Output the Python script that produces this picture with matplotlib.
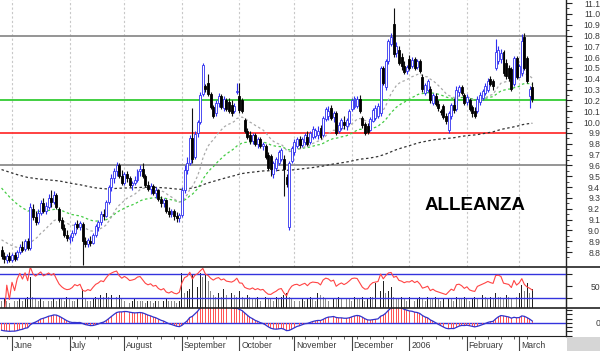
import numpy as np
import pandas as pd
import matplotlib
matplotlib.use("Agg")
import matplotlib.pyplot as plt
from matplotlib.patches import Rectangle
from matplotlib.lines import Line2D

plt.rcParams['font.family'] = ['Liberation Sans', 'DejaVu Sans']

# ---------------- data ----------------
opens = [8.82, 8.76, 8.73, 8.76, 8.73, 8.77, 8.75, 8.80, 8.85, 8.83, 8.90, 8.84, 9.20, 9.12, 9.08, 9.16, 9.25, 9.18, 9.22, 9.30,
         9.26, 9.33, 9.20, 9.10, 9.02, 8.96, 8.92, 8.94, 8.98, 9.06, 9.03, 9.06, 8.90, 8.87, 8.90, 8.88, 8.96, 9.03, 9.08, 9.15,
         9.13, 9.26, 9.40, 9.48, 9.55, 9.60, 9.50, 9.44, 9.52, 9.48, 9.42, 9.44, 9.47, 9.55, 9.57, 9.50, 9.42, 9.38, 9.41, 9.35,
         9.37, 9.29, 9.25, 9.28, 9.18, 9.15, 9.18, 9.13, 9.11, 9.14, 9.37, 9.56, 9.62, 9.85, 9.68, 9.90, 10.00, 10.26, 10.33, 10.36,
         10.26, 10.14, 10.08, 10.18, 10.24, 10.13, 10.20, 10.19, 10.16, 10.10, 10.28, 10.24, 10.20, 10.02, 9.92, 9.88, 9.83, 9.88, 9.80, 9.84,
         9.78, 9.78, 9.70, 9.69, 9.52, 9.58, 9.62, 9.66, 9.66, 9.49, 9.03, 9.64, 9.72, 9.78, 9.84, 9.79, 9.82, 9.86, 9.82, 9.86,
         9.87, 9.88, 9.95, 9.88, 10.03, 10.06, 10.13, 10.05, 10.08, 9.92, 9.95, 10.00, 9.96, 9.99, 10.12, 10.14, 10.15, 10.21, 10.04, 9.98,
         9.96, 9.93, 10.01, 10.04, 10.06, 10.08, 10.50, 10.32, 10.56, 10.72, 10.91, 10.64, 10.67, 10.60, 10.52, 10.47, 10.58, 10.52, 10.58, 10.51,
         10.56, 10.42, 10.27, 10.30, 10.31, 10.18, 10.24, 10.17, 10.10, 10.15, 10.06, 9.93, 10.06, 10.16, 10.12, 10.28, 10.32, 10.25, 10.19, 10.20,
         10.14, 10.10, 10.10, 10.19, 10.22, 10.27, 10.30, 10.40, 10.38, 10.50, 10.56, 10.58, 10.65, 10.55, 10.50, 10.49, 10.35, 10.59, 10.42, 10.45,
         10.79, 10.59, 10.24, 10.32]
highs = [8.86, 8.80, 8.78, 8.80, 8.79, 8.80, 8.82, 8.87, 8.90, 8.92, 8.93, 9.25, 9.24, 9.18, 9.20, 9.28, 9.30, 9.26, 9.34, 9.37,
         9.36, 9.35, 9.22, 9.12, 9.06, 9.00, 8.96, 9.00, 9.08, 9.10, 9.09, 9.08, 8.94, 8.93, 8.95, 8.98, 9.06, 9.10, 9.18, 9.20,
         9.28, 9.42, 9.52, 9.58, 9.63, 9.62, 9.56, 9.54, 9.55, 9.50, 9.46, 9.50, 9.57, 9.60, 9.62, 9.52, 9.46, 9.44, 9.43, 9.40,
         9.38, 9.32, 9.30, 9.29, 9.22, 9.20, 9.20, 9.17, 9.16, 9.40, 9.60, 9.68, 9.88, 10.13, 9.92, 10.02, 10.28, 10.55, 10.35, 10.44,
         10.28, 10.16, 10.20, 10.27, 10.26, 10.24, 10.22, 10.22, 10.20, 10.18, 10.36, 10.36, 10.22, 10.04, 9.95, 9.92, 9.90, 9.90, 9.86, 9.86,
         9.82, 9.80, 9.72, 9.71, 9.64, 9.68, 9.74, 9.76, 9.70, 9.52, 9.64, 9.78, 9.84, 9.86, 9.87, 9.86, 9.90, 9.92, 9.92, 9.96,
         9.95, 9.96, 9.97, 10.06, 10.14, 10.15, 10.16, 10.10, 10.10, 10.00, 10.04, 10.06, 10.04, 10.12, 10.22, 10.24, 10.24, 10.25, 10.06, 10.00,
         9.99, 10.05, 10.13, 10.16, 10.18, 10.52, 10.52, 10.58, 10.77, 10.82, 11.05, 10.74, 10.70, 10.64, 10.56, 10.53, 10.62, 10.60, 10.60, 10.58,
         10.58, 10.44, 10.36, 10.40, 10.33, 10.27, 10.27, 10.20, 10.12, 10.17, 10.08, 10.10, 10.18, 10.22, 10.33, 10.34, 10.34, 10.27, 10.26, 10.22,
         10.16, 10.14, 10.24, 10.28, 10.31, 10.36, 10.41, 10.43, 10.40, 10.77, 10.70, 10.68, 10.67, 10.58, 10.53, 10.51, 10.61, 10.61, 10.54, 10.81,
         10.82, 10.61, 10.33, 10.37]
lows = [8.74, 8.70, 8.70, 8.71, 8.71, 8.72, 8.73, 8.78, 8.80, 8.81, 8.82, 8.82, 9.10, 9.05, 9.06, 9.14, 9.16, 9.15, 9.20, 9.22,
        9.24, 9.20, 9.08, 9.00, 8.94, 8.90, 8.88, 8.90, 8.96, 9.01, 9.00, 8.68, 8.85, 8.85, 8.86, 8.87, 8.94, 8.99, 9.05, 9.10,
        9.12, 9.24, 9.36, 9.44, 9.50, 9.48, 9.42, 9.42, 9.45, 9.40, 9.37, 9.42, 9.45, 9.50, 9.48, 9.40, 9.36, 9.34, 9.33, 9.30,
        9.27, 9.22, 9.22, 9.16, 9.12, 9.12, 9.10, 9.08, 9.08, 9.12, 9.35, 9.52, 9.60, 9.62, 9.66, 9.86, 9.98, 10.24, 10.28, 10.24,
        10.12, 10.04, 10.06, 10.14, 10.12, 10.10, 10.10, 10.08, 10.06, 10.08, 10.26, 10.08, 10.08, 9.90, 9.84, 9.80, 9.80, 9.78, 9.76, 9.76,
        9.74, 9.66, 9.56, 9.50, 9.48, 9.55, 9.60, 9.64, 9.32, 9.40, 9.00, 9.62, 9.70, 9.76, 9.76, 9.77, 9.79, 9.78, 9.80, 9.84,
        9.85, 9.84, 9.84, 9.86, 10.01, 10.02, 10.02, 10.00, 9.88, 9.90, 9.93, 9.94, 9.93, 9.97, 10.10, 10.12, 10.13, 10.08, 9.95, 9.88,
        9.89, 9.92, 10.00, 10.02, 10.04, 10.06, 10.34, 10.30, 10.54, 10.70, 10.60, 10.60, 10.53, 10.48, 10.44, 10.44, 10.48, 10.50, 10.48, 10.49,
        10.45, 10.28, 10.25, 10.28, 10.18, 10.16, 10.15, 10.10, 10.07, 10.03, 9.98, 9.90, 10.03, 10.08, 10.10, 10.24, 10.25, 10.16, 10.16, 10.10,
        10.05, 10.04, 10.08, 10.16, 10.20, 10.25, 10.28, 10.33, 10.30, 10.48, 10.54, 10.55, 10.43, 10.40, 10.38, 10.29, 10.33, 10.40, 10.43, 10.43,
        10.48, 10.36, 10.13, 10.19]
closes = [8.76, 8.74, 8.76, 8.73, 8.77, 8.74, 8.80, 8.85, 8.82, 8.90, 8.84, 9.22, 9.12, 9.08, 9.16, 9.25, 9.18, 9.23, 9.30, 9.26,
          9.33, 9.22, 9.10, 9.02, 8.96, 8.93, 8.94, 8.98, 9.06, 9.03, 9.07, 8.90, 8.87, 8.91, 8.88, 8.96, 9.04, 9.08, 9.15, 9.13,
          9.26, 9.40, 9.48, 9.55, 9.60, 9.50, 9.44, 9.52, 9.48, 9.42, 9.44, 9.47, 9.55, 9.57, 9.50, 9.42, 9.38, 9.41, 9.35, 9.37,
          9.29, 9.25, 9.28, 9.18, 9.15, 9.18, 9.13, 9.11, 9.14, 9.37, 9.56, 9.62, 9.85, 9.66, 9.89, 10.00, 10.25, 10.53, 10.31, 10.26,
          10.14, 10.06, 10.18, 10.24, 10.14, 10.21, 10.12, 10.10, 10.08, 10.15, 10.29, 10.11, 10.10, 9.92, 9.86, 9.83, 9.88, 9.80, 9.84, 9.78,
          9.80, 9.68, 9.58, 9.57, 9.62, 9.66, 9.72, 9.74, 9.57, 9.43, 9.62, 9.76, 9.82, 9.84, 9.79, 9.84, 9.88, 9.80, 9.90, 9.94,
          9.93, 9.92, 9.86, 10.04, 10.12, 10.10, 10.04, 10.08, 9.90, 9.97, 10.02, 9.97, 10.02, 10.10, 10.20, 10.22, 10.21, 10.10, 9.97, 9.90,
          9.91, 10.03, 10.11, 10.13, 10.15, 10.50, 10.36, 10.56, 10.75, 10.79, 10.63, 10.70, 10.55, 10.52, 10.46, 10.51, 10.50, 10.57, 10.50, 10.56,
          10.47, 10.31, 10.34, 10.38, 10.20, 10.25, 10.17, 10.13, 10.09, 10.05, 10.01, 10.08, 10.16, 10.11, 10.30, 10.32, 10.27, 10.18, 10.23, 10.12,
          10.08, 10.06, 10.21, 10.25, 10.29, 10.33, 10.38, 10.35, 10.33, 10.65, 10.67, 10.64, 10.45, 10.43, 10.41, 10.31, 10.59, 10.42, 10.52, 10.75,
          10.50, 10.38, 10.31, 10.21]
volumes = [3, 4, 3, 2, 4, 3, 3, 4, 3, 4, 5, 15, 5, 4, 3, 4, 3, 4, 3, 3,
           4, 3, 4, 4, 3, 5, 4, 3, 3, 4, 3, 9, 4, 3, 3, 4, 5, 4, 6, 5,
           7, 5, 6, 7, 5, 6, 4, 3, 3, 2, 3, 4, 3, 3, 3, 2, 3, 3, 2, 3,
           3, 2, 3, 4, 3, 3, 3, 2, 3, 17, 7, 8, 9, 16, 9, 10, 17, 15, 16, 13,
           8, 6, 5, 7, 5, 9, 6, 5, 7, 6, 5, 8, 5, 4, 6, 5, 4, 4, 5, 3,
           4, 5, 4, 4, 3, 5, 4, 5, 6, 7, 5, 4, 3, 4, 3, 4, 3, 4, 5, 4,
           3, 7, 6, 5, 4, 3, 3, 4, 4, 5, 4, 5, 4, 4, 3, 5, 4, 4, 5, 3,
           4, 5, 5, 12, 7, 8, 13, 7, 8, 10, 5, 4, 4, 5, 4, 3, 5, 4, 3, 4,
           5, 4, 3, 5, 4, 4, 5, 4, 3, 4, 3, 4, 4, 3, 5, 4, 4, 5, 4, 3,
           4, 5, 4, 4, 6, 5, 4, 5, 4, 7, 5, 5, 4, 6, 5, 4, 6, 5, 7, 11,
           8, 12, 7, 9]

start_date, end_date = '2005-05-26', '2006-03-08'
closed_days = ['2005-08-15']
support_grey = [10.8, 9.6]
level_green = 10.2
level_red = 9.9
title = 'ALLEANZA'
# indicator values at the left edge of the chart
ma_short_start, ma_mid_start, ma_long_start = 8.93, 9.42, 9.57
ema12_start, ema26_start = 8.93, 9.01

# ---------------- helpers ----------------
def ema(values, span, seed):
    a = 2.0 / (span + 1.0)
    out, prev = [], seed
    for val in values:
        prev = prev + a * (val - prev)
        out.append(prev)
    return np.array(out)

n = len(closes)
dates = pd.bdate_range(start_date, end_date)
dates = dates[~dates.isin(pd.to_datetime(closed_days))][:n]
x = np.arange(n)
o = np.array(opens); h = np.array(highs); l = np.array(lows); c = np.array(closes)
v = np.array(volumes, dtype=float)

ma_s = ema(c, 20, ma_short_start)
ma_m = ema(c, 45, ma_mid_start)
ma_l = ema(c, 200, ma_long_start)

diff = np.diff(c, prepend=c[0])
gain = pd.Series(np.clip(diff, 0, None)).ewm(alpha=1/14, adjust=False).mean()
loss = pd.Series(np.clip(-diff, 0, None)).ewm(alpha=1/14, adjust=False).mean()
rsi = (100 - 100 / (1 + gain / loss.replace(0, np.nan))).values
rsi[0] = np.nan
macd = ema(c, 12, ema12_start) - ema(c, 26, ema26_start)

# month starts
month_idx, month_lab = [], []
for i in range(1, n):
    if dates[i].month != dates[i - 1].month:
        month_idx.append(i)
        month_lab.append(str(dates[i].year) if dates[i].month == 1 else dates[i].strftime('%B'))
monday_idx = [i for i in range(n) if dates[i].weekday() == 0]

# ---------------- figure ----------------
W, H = 600, 351
fig = plt.figure(figsize=(W / 100, H / 100), dpi=100)
fig.patch.set_facecolor('white')
right = 566 / W
ax1 = fig.add_axes([0, 1 - 267 / H, right, 267 / H])
ax2 = fig.add_axes([0, 1 - 307.5 / H, right, 40 / H])
ax3 = fig.add_axes([0, 1 - 336 / H, right, 28.5 / H])
xlim = (-0.59, 215.9)
for ax in (ax1, ax2, ax3):
    ax.set_xlim(*xlim)
    ax.set_facecolor('white')
    for s in ('top', 'left', 'bottom'):
        ax.spines[s].set_visible(False)
    ax.spines['right'].set_color('#222222')
    ax.spines['right'].set_linewidth(1.0)
    ax.tick_params(axis='x', which='both', bottom=False, labelbottom=False)

lblc = '#3a3a3a'
fs = 6.2

# main panel
ax1.set_ylim(8.662, 11.128)
for mi in month_idx:
    ax1.axvline(mi, color='#c8c8c8', lw=0.8, ls=(0, (2, 2)), zorder=0)
for lv in support_grey:
    ax1.axhline(lv, color='#8c8c8c', lw=1.3, zorder=1)
ax1.axhline(level_green, color='#33cc33', lw=1.3, zorder=1)
ax1.axhline(level_red, color='#ff3333', lw=1.3, zorder=1)
ax1.plot(x, ma_l, color='#333333', lw=0.9, ls=(0, (2, 2)), zorder=2)
ax1.plot(x, ma_m, color='#44cc44', lw=0.9, ls=(0, (2, 2)), zorder=2)
ax1.plot(x, ma_s, color='#aaaaaa', lw=0.9, ls=(0, (2, 2)), zorder=2)

up = c >= o
blue = '#3030f0'
ax1.vlines(x[up], l[up], h[up], color=blue, lw=0.8, zorder=3)
ax1.vlines(x[~up], l[~up], h[~up], color='#111111', lw=0.8, zorder=3)
body = np.maximum(np.abs(c - o), 0.012)
bot = np.minimum(c, o)
ax1.bar(x[up], body[up], bottom=bot[up], width=0.75, facecolor='white', edgecolor=blue, lw=0.6, zorder=4)
ax1.bar(x[~up], body[~up], bottom=bot[~up], width=0.75, facecolor='black', edgecolor='black', lw=0.6, zorder=4)

ax1.text(474.5 / 566, (267 - 205.5) / 267, title, transform=ax1.transAxes, ha='center', va='center',
         fontsize=13.5, fontweight='bold', color='black')

ax1.yaxis.tick_right()
ax1.set_yticks(np.round(np.arange(8.8, 11.15, 0.1), 1))
ax1.set_yticks(np.round(np.arange(8.75, 11.12, 0.05), 2), minor=True)
ax1.set_yticklabels([f'{t:.1f}' for t in np.arange(8.8, 11.15, 0.1)])
ax1.tick_params(axis='y', which='major', length=4, width=0.8, color='#222222', labelsize=fs,
                labelcolor=lblc, pad=20.5)
ax1.tick_params(axis='y', which='minor', length=2, width=0.6, color='#222222')
for t in ax1.get_yticklabels():
    t.set_horizontalalignment('right')

# volume + RSI panel
ax2.bar(x, v, width=0.35, color=['#222222' if (i > 0 and v[i] > v[i - 1]) else '#8a8a8a' for i in range(n)],
        zorder=1)
ax2.set_ylim(0, 19.5)
ax2.set_yticks([])
ax2r = ax2.twinx()
ax2r.set_xlim(*xlim)
for s in ('top', 'left', 'bottom'):
    ax2r.spines[s].set_visible(False)
ax2r.spines['right'].set_color('#222222')
ax2r.set_ylim(15, 81)
ax2r.axhline(70, color='#3333dd', lw=1.0)
ax2r.axhline(30, color='#3333dd', lw=1.0)
ax2r.plot(x, rsi, color='#ff4444', lw=0.8)
ax2r.set_yticks([30, 50, 70])
ax2r.set_yticklabels(['', '50', ''])
ax2r.tick_params(axis='y', length=4, width=0.8, color='#222222', labelsize=fs, labelcolor=lblc, pad=20.5)
for t in ax2r.get_yticklabels():
    t.set_horizontalalignment('right')

# MACD panel
ax3.set_ylim(-0.155, 0.18)
ax3.axhline(0, color='#3333dd', lw=1.0, zorder=1)
ax3.bar(x, macd, width=0.35, color='#ff5555', zorder=2)
ax3.plot(x, macd, color='#3333cc', lw=0.9, zorder=3)
ax3.spines['bottom'].set_visible(True)
ax3.spines['bottom'].set_color('#222222')
ax3.yaxis.tick_right()
mticks = [-0.15, -0.1, -0.05, 0, 0.05, 0.1, 0.15]
ax3.set_yticks(mticks)
ax3.set_yticklabels(['0' if t == 0 else '' for t in mticks])
ax3.tick_params(axis='y', length=4, width=0.8, color='#222222', labelsize=fs, labelcolor=lblc, pad=20.5)
for t in ax3.get_yticklabels():
    t.set_horizontalalignment('right')
ax3.set_xticks(month_idx)
ax3.set_xticks(monday_idx, minor=True)
ax3.tick_params(axis='x', which='major', bottom=True, length=10.5, width=0.8, color='#444444', direction='out')
ax3.tick_params(axis='x', which='minor', bottom=True, length=2.5, width=0.6, color='#444444', direction='out')
for mi, lab in zip(month_idx, month_lab):
    ax3.annotate(lab, xy=(mi, 0), xycoords=('data', 'axes fraction'), xytext=(1.3, -6.8),
                 textcoords='offset points', ha='left', va='center', fontsize=fs, color=lblc)

# separators and corner box
for yy in (267.3, 307.7):
    fig.add_artist(Line2D([0, 1], [1 - yy / H, 1 - yy / H], color='#222222', lw=1.2))
fig.add_artist(Rectangle((567 / W, 0), 33 / W, 14 / H, facecolor='#d6d6d6', edgecolor='none',
                         transform=fig.transFigure))

fig.savefig('out.png', dpi=100, facecolor='white')
